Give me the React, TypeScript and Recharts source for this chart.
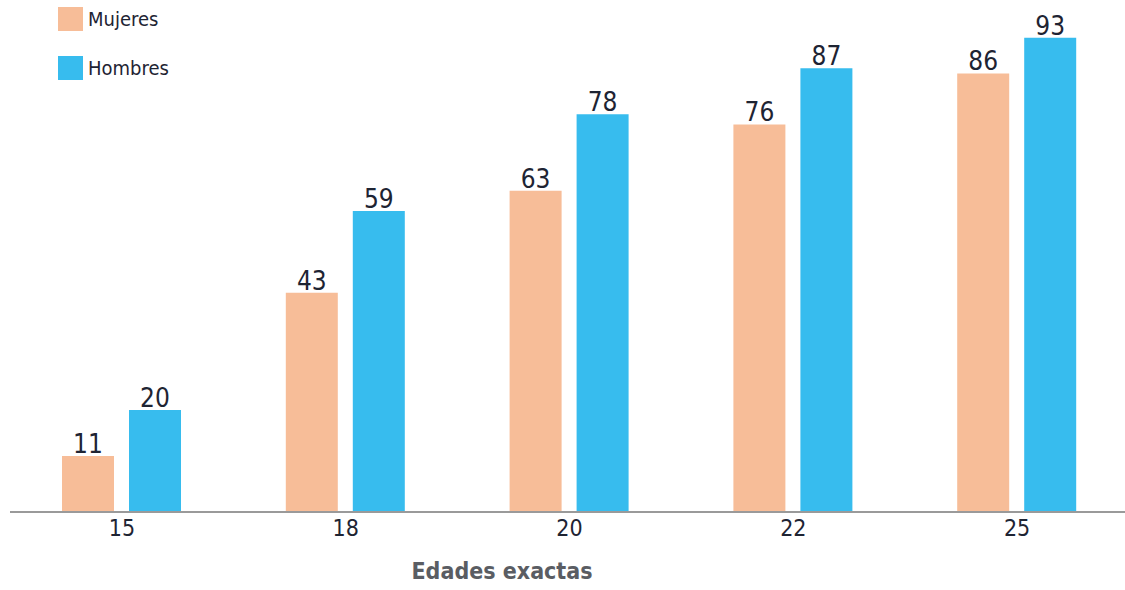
import React from 'react';
import { BarChart, Bar, XAxis, YAxis, Legend, LabelList } from 'recharts';

const edades = ['15', '18', '20', '22', '25'];
const mujeres = [11, 43, 63, 76, 86];
const hombres = [20, 59, 78, 87, 93];
const series = ['Mujeres', 'Hombres'];

const data = edades.map((edad, i) => ({ edad, mujeres: mujeres[i], hombres: hombres[i] }));

const FONT = '"DejaVu Sans Condensed", "Liberation Sans Narrow", sans-serif';

// keep legend in series order (Recharts sorts it by name otherwise)
const LegendBox = ({ payload }: any) => {
  const items = [...(payload || [])].sort((a: any, b: any) => series.indexOf(a.value) - series.indexOf(b.value));
  return (
    <div style={{ fontFamily: FONT }}>
      {items.map((p: any) => (
        <div key={p.value} style={{ display: 'flex', alignItems: 'center', height: 24, marginBottom: 25 }}>
          <div style={{ width: 25, height: 24, background: p.color, marginRight: 5 }} />
          <span style={{ fontSize: 20, color: '#1e2433' }}>{p.value}</span>
        </div>
      ))}
    </div>
  );
};

const AxisTitle = ({ viewBox }: any) => (
  <text
    x={502}
    y={viewBox.y + 67}
    textAnchor="middle"
    fontFamily={FONT}
    fontWeight="bold"
    fontSize={23}
    fill="#5a5d63"
  >
    Edades exactas
  </text>
);

const labelStyle = { fontFamily: FONT, fontSize: 26, fill: '#1e2433' };

export default function App() {
  return (
    <div style={{ width: 1125, height: 590, overflow: 'hidden', position: 'relative' }}>
      <style>{`body{margin:0;overflow:hidden;background:#fff}`}</style>
      <BarChart
        width={1130}
        height={590}
        data={data}
        margin={{ top: 2, right: 1, bottom: 0, left: 10 }}
        barSize={52}
        barGap={15}
      >
        <XAxis
          dataKey="edad"
          height={78}
          tickLine={false}
          axisLine={{ stroke: '#9a9a9a', strokeWidth: 2 }}
          tick={{ fontFamily: FONT, fontSize: 23, fill: '#1e2433' }}
          label={<AxisTitle />}
        />
        <YAxis hide domain={[0, 100]} />
        <Legend
          layout="vertical"
          align="center"
          verticalAlign="middle"
          wrapperStyle={{ top: 7, left: 58, width: 'auto' }}
          content={<LegendBox />}
        />
        <Bar dataKey="mujeres" name="Mujeres" fill="#F7BD98" isAnimationActive={false}>
          <LabelList dataKey="mujeres" position="top" offset={3} style={labelStyle} />
        </Bar>
        <Bar dataKey="hombres" name="Hombres" fill="#37BCEE" isAnimationActive={false}>
          <LabelList dataKey="hombres" position="top" offset={3} style={labelStyle} />
        </Bar>
      </BarChart>
    </div>
  );
}
